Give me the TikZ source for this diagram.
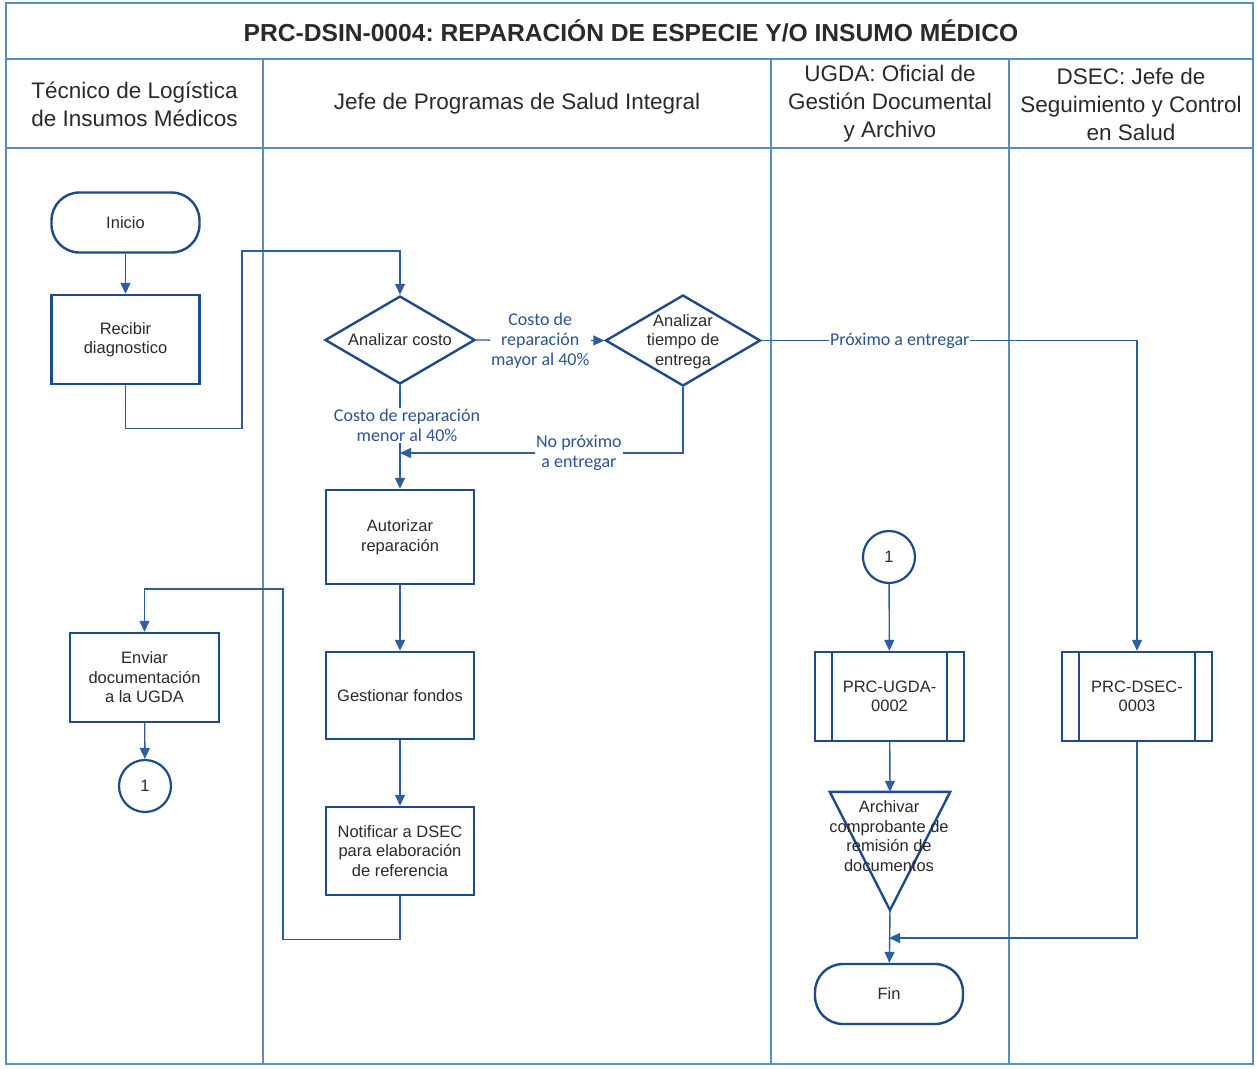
\documentclass[tikz,border=0pt]{standalone}
\usepackage{fontspec}
\setmainfont{Liberation Sans}
\newfontfamily\carlito{Carlito}
\usetikzlibrary{shapes.geometric,arrows.meta,calc}
\frenchspacing

\definecolor{laneblue}{HTML}{5B8CC0}
\definecolor{nodeblue}{HTML}{1F4A8A}
\definecolor{flowblue}{HTML}{2F5E9E}
\definecolor{lbltext}{HTML}{2C5490}
\definecolor{nodetext}{HTML}{2A2A2A}

\newcommand\ndfont{\fontsize{16.5}{19.5}\selectfont}
\newcommand\hdfont{\fontsize{22.5}{28}\selectfont}
\newcommand\lbfont{\carlito\fontsize{18}{20}\selectfont}

\tikzset{
  lane/.style={draw=laneblue, line width=1.3pt},
  nodetxt/.style={font=\ndfont, text=nodetext, align=center, inner sep=0pt},
  procbox/.style={draw=nodeblue, line width=2.4pt, minimum width=148pt,
    minimum height=89pt, inner sep=2pt, align=center, font=\ndfont, text=nodetext},
  term/.style={draw=nodeblue, line width=2.4pt, rounded corners=28pt,
    minimum width=148pt, minimum height=60pt, font=\ndfont, text=nodetext},
  decision/.style={diamond, draw=nodeblue, line width=2.4pt, inner sep=0pt},
  conn/.style={circle, draw=nodeblue, line width=2.2pt, minimum size=52pt,
    inner sep=0pt, font=\ndfont, text=nodetext},
  border/.style={draw=nodeblue, line width=2.4pt},
  flow/.style={draw=flowblue, line width=1.4pt, -{Triangle[length=11pt,width=10pt]}},
  edgelbl/.style={font=\lbfont, text=lbltext, fill=white, inner sep=1.5pt, align=center},
  header/.style={font=\hdfont, text=nodetext, align=center},
}

\begin{document}
\begin{tikzpicture}[x=1pt, y=-1pt]
\useasboundingbox (0,0) rectangle (1257,1068);
\fill[white] (0,0) rectangle (1257,1068);

% frame, title row and swimlanes
\draw[lane] (6,3) rectangle (1253,1064);
\draw[lane] (6,59) -- (1253,59);
\draw[lane] (6,148) -- (1253,148);
\draw[lane] (263,59) -- (263,1064);
\draw[lane] (771,59) -- (771,1064);
\draw[lane] (1009,59) -- (1009,1064);

\node[font=\bfseries\fontsize{24.6}{28}\selectfont, text=nodetext] (title) at (631,31)
  {PRC-DSIN-0004: REPARACIÓN DE ESPECIE Y/O INSUMO MÉDICO};

\node[header] (h1) at (134.5,104) {Técnico de Logística\\de Insumos Médicos};
\node[header] (h2) at (517,104) {Jefe de Programas de Salud Integral};
\node[header] (h3) at (890,104) {UGDA: Oficial de\\Gestión Documental\\y Archivo};
\node[header] (h4) at (1131,104) {DSEC: Jefe de\\Seguimiento y Control\\en Salud};

% lane 1
\node[term] (inicio) at (125.5,222.5) {Inicio};
\node[procbox] (recibir) at (125.5,339.5) {Recibir\\diagnostico};
\node[procbox, minimum width=149pt] (enviar) at (144.5,677.5) {Enviar\\documentación\\a la UGDA};
\node[conn] (c1a) at (145,786) {1};

% lane 2
\node[decision, minimum width=150pt, minimum height=88pt] (costo) at (400,340) {};
\node[nodetxt] (costotxt) at (costo.center) {Analizar costo};
\node[decision, minimum width=155pt, minimum height=91pt] (tiempo) at (683,340.5) {};
\node[nodetxt] (tiempotxt) at (683,341.5) {Analizar\\tiempo de\\entrega};
\node[procbox, minimum height=94pt] (autorizar) at (400,537) {Autorizar\\reparación};
\node[procbox, minimum height=87pt] (gestionar) at (400,695.5) {Gestionar fondos};
\node[procbox, minimum height=88pt] (notificar) at (400,851) {Notificar a DSEC\\para elaboración\\de referencia};

% lane 3
\node[conn] (c1b) at (889,557) {1};
\node[procbox, minimum width=149pt] (ugda) at (889.5,696.5) {PRC-UGDA-\\0002};
\node[inner sep=0pt, minimum width=120pt, minimum height=118pt] (archivar) at (890,851) {};
\draw[border, line join=miter] (archivar.north west) -- (archivar.north east)
  -- (archivar.south) -- cycle;
\node[nodetxt] (archtxt) at (889,836) {Archivar\\comprobante de\\remisión de\\documentos};
\node[term] (fin) at (889,994) {Fin};

% lane 4
\node[procbox, minimum width=150pt] (dsec) at (1137,696.5) {PRC-DSEC-\\0003};

% side bars of the predefined-process boxes
\foreach \n in {ugda,dsec} {
  \draw[border] ([xshift=18pt]\n.north west) -- ([xshift=18pt]\n.south west);
  \draw[border] ([xshift=-18pt]\n.north east) -- ([xshift=-18pt]\n.south east);
}

% connectors
\coordinate (nojoin) at (400,453);
\coordinate (merge) at (889,938);

\draw[flow] (inicio) -- (recibir);
\draw[flow] (recibir.south) -- ++(0,43) -| (242,251) -| (costo.north);
\draw[flow] (costo.east) -- node[edgelbl] {Costo de\\reparación\\mayor al 40\%} (tiempo.west);
\draw[flow] (costo.south) -- node[edgelbl, pos=0.39, xshift=7pt]
  {Costo de reparación\\menor al 40\%} (autorizar.north);
\draw[flow] (tiempo.south) |- node[edgelbl, pos=0.684] {No próximo\\a entregar} (nojoin);
\draw[flow] (tiempo.east) -| node[edgelbl, pos=0.184, inner sep=1pt] {Próximo a entregar} (dsec.north);
\draw[flow] (autorizar) -- (gestionar);
\draw[flow] (gestionar) -- (notificar);
\draw[flow] (notificar.south) -- ++(0,43) -| (283,589) -| (enviar.north);
\draw[flow] (enviar) -- (c1a);
\draw[flow] (c1b) -- (ugda);
\draw[flow] (ugda) -- (archivar.north);
\draw[flow] (archivar.south) -- (fin);
\draw[flow] (dsec.south) |- (merge);
\end{tikzpicture}
\end{document}
